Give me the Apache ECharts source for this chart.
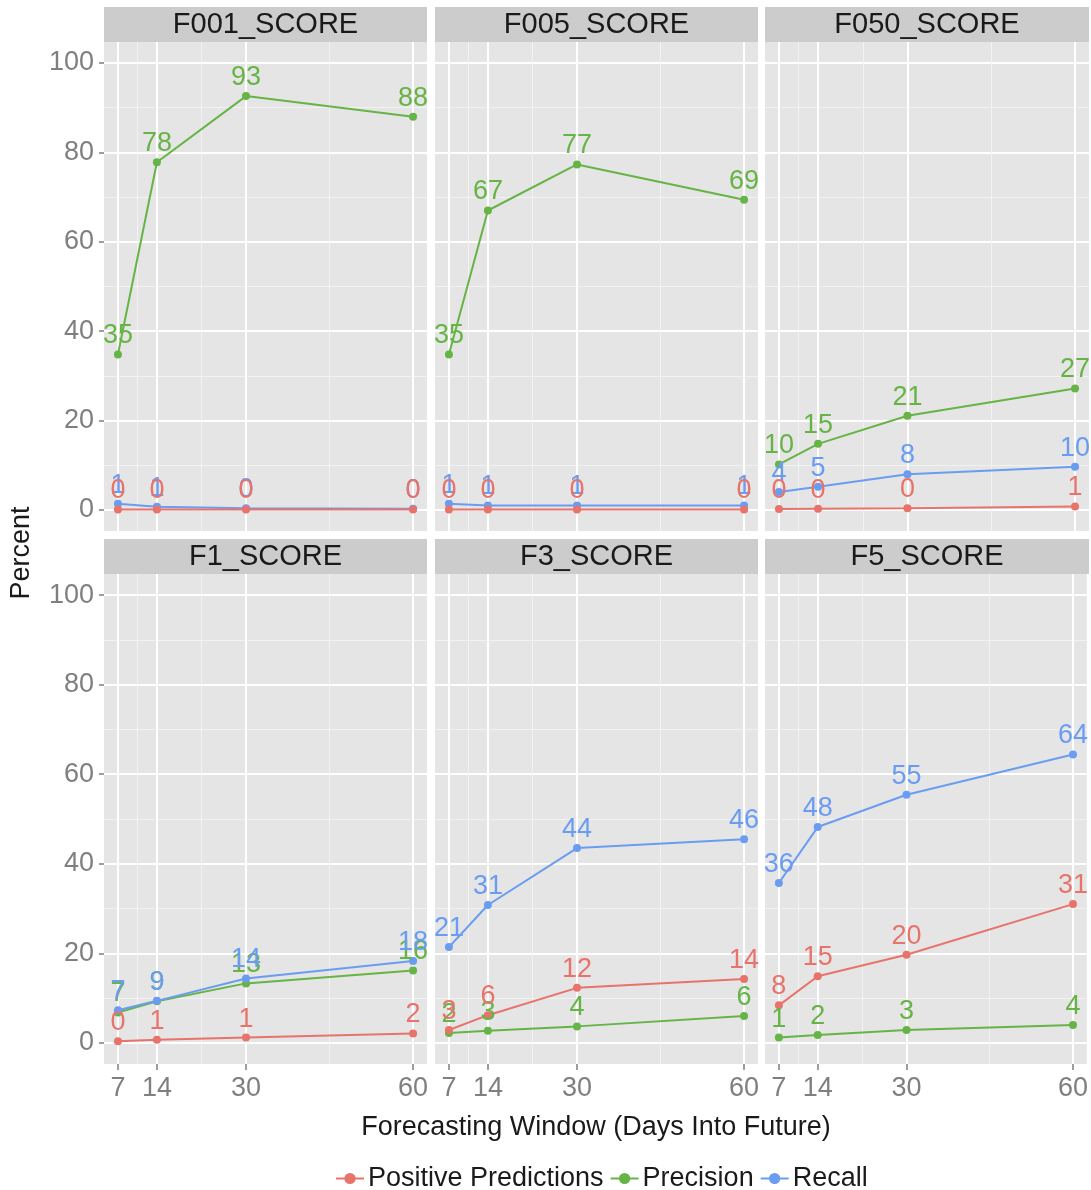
<!DOCTYPE html>
<html>
<head>
<meta charset="utf-8">
<script src="https://cdn.jsdelivr.net/npm/echarts@6/dist/echarts.min.js"></script>
<style>html,body{margin:0;padding:0;background:#fff}#chart{width:1091px;height:1190px}</style>
</head>
<body>
<div id="chart"></div>
<script>
// ---- data ----
const days = [7, 14, 30, 60];
const xTicks = [7, 14, 30, 60];
const yTicks = [0, 20, 40, 60, 80, 100];
const panelNames = ['F001_SCORE', 'F005_SCORE', 'F050_SCORE', 'F1_SCORE', 'F3_SCORE', 'F5_SCORE'];
const metricNames = ['Positive Predictions', 'Precision', 'Recall'];

const f001Positive = [0.1, 0.1, 0.1, 0.1];
const f001Precision = [34.8, 77.8, 92.6, 88.0];
const f001Recall = [1.4, 0.7, 0.4, 0.3];

const f005Positive = [0.1, 0.1, 0.1, 0.1];
const f005Precision = [34.8, 67.0, 77.3, 69.4];
const f005Recall = [1.4, 1.0, 1.0, 1.0];

const f050Positive = [0.2, 0.3, 0.4, 0.8];
const f050Precision = [10.2, 14.8, 21.1, 27.2];
const f050Recall = [4.0, 5.2, 8.0, 9.7];

const f1Positive = [0.4, 0.7, 1.2, 2.1];
const f1Precision = [6.8, 9.3, 13.3, 16.2];
const f1Recall = [7.3, 9.4, 14.4, 18.3];

const f3Positive = [2.9, 6.2, 12.3, 14.3];
const f3Precision = [2.2, 2.7, 3.7, 6.0];
const f3Recall = [21.4, 30.8, 43.5, 45.5];

const f5Positive = [8.4, 14.9, 19.7, 31.0];
const f5Precision = [1.2, 1.8, 2.9, 4.0];
const f5Recall = [35.7, 48.2, 55.4, 64.4];

const positiveByPanel = [f001Positive, f005Positive, f050Positive, f1Positive, f3Positive, f5Positive];
const precisionByPanel = [f001Precision, f005Precision, f050Precision, f1Precision, f3Precision, f5Precision];
const recallByPanel = [f001Recall, f005Recall, f050Recall, f1Recall, f3Recall, f5Recall];

// ---- styling / layout ----
const FONT = '"Liberation Sans", Arial, Helvetica, sans-serif';
const COLORS = { 'Positive Predictions': '#E8736B', 'Precision': '#66B446', 'Recall': '#6A9CF2' };
const colLeft = [104, 435, 765];
const colWidth = [323, 323, 324];
const rowTop = [42, 574];
const rowHeight = [489, 490];
const stripH = 35;
const xMinorTicks = [10.5, 22, 45];
const yMinorTicks = [10, 30, 50, 70, 90];
const FS = 27;

const grids = [], xAxes = [], yAxes = [], series = [], titles = [], graphics = [];

panelNames.forEach((name, i) => {
  const r = Math.floor(i / 3), c = i % 3;
  const left = colLeft[c], top = rowTop[r], w = colWidth[c], h = rowHeight[r];
  grids.push({ left: left, top: top, width: w, height: h, show: true, backgroundColor: '#E5E5E5', borderWidth: 0 });
  // strip
  graphics.push({ type: 'rect', shape: { x: left, y: top - stripH, width: w, height: stripH }, style: { fill: '#CCCCCC' }, silent: true });
  titles.push({ text: name, left: left + w / 2, top: top - stripH + 3, textAlign: 'center',
    textStyle: { fontFamily: FONT, fontSize: 29, fontWeight: 'normal', color: '#1A1A1A' }, padding: 0 });

  const showX = r === 1, showY = c === 0;
  // minor axes (drawn first)
  xAxes.push({ gridIndex: i, type: 'value', position: 'bottom', min: 4.5, max: 62.5, axisLine: { show: false, onZero: false },
    axisTick: { show: false, customValues: xMinorTicks }, axisLabel: { show: false, customValues: xMinorTicks },
    splitLine: { show: true, lineStyle: { color: '#F2F2F2', width: 1 } } });
  yAxes.push({ gridIndex: i, type: 'value', min: -4.7, max: 104.7, position: 'left', axisLine: { show: false, onZero: false },
    axisTick: { show: false, customValues: yMinorTicks }, axisLabel: { show: false, customValues: yMinorTicks },
    splitLine: { show: true, lineStyle: { color: '#F2F2F2', width: 1 } } });
  // major axes
  xAxes.push({ gridIndex: i, type: 'value', position: 'bottom', min: 4.5, max: 62.5, axisLine: { show: false, onZero: false },
    axisTick: { show: showX, customValues: xTicks, length: 6, lineStyle: { color: '#7F7F7F', width: 1.5 } },
    axisLabel: { show: showX, customValues: xTicks, margin: 11, color: '#7F7F7F', fontFamily: FONT, fontSize: FS },
    splitLine: { show: true, lineStyle: { color: '#FFFFFF', width: 2 } } });
  yAxes.push({ gridIndex: i, type: 'value', min: -4.7, max: 104.7, position: 'left', axisLine: { show: false, onZero: false },
    axisTick: { show: showY, customValues: yTicks, length: 5, lineStyle: { color: '#7F7F7F', width: 1.5 } },
    axisLabel: { show: showY, customValues: yTicks, margin: 10, color: '#7F7F7F', fontFamily: FONT, fontSize: FS },
    splitLine: { show: true, lineStyle: { color: '#FFFFFF', width: 2 } } });

  const byMetric = { 'Positive Predictions': positiveByPanel[i], 'Precision': precisionByPanel[i], 'Recall': recallByPanel[i] };
  ['Precision', 'Recall', 'Positive Predictions'].forEach(m => {
    const col = COLORS[m];
    series.push({
      name: m, type: 'line', xAxisIndex: 2 * i + 1, yAxisIndex: 2 * i + 1,
      data: days.map((d, k) => [d, byMetric[m][k]]),
      symbol: 'circle', symbolSize: 8, showSymbol: true,
      lineStyle: { color: col, width: 2 }, itemStyle: { color: col },
      label: { show: true, position: 'top', distance: 1, color: col, fontFamily: FONT, fontSize: FS,
        formatter: p => String(Math.round(p.value[1])) },
      emphasis: { disabled: true }, animation: false
    });
  });
});

graphics.push({ type: 'text', x: 22, y: 553, rotation: Math.PI / 2,
  style: { text: 'Percent', fontFamily: FONT, fontSize: FS, fill: '#1A1A1A', textAlign: 'center', textVerticalAlign: 'middle' } });
graphics.push({ type: 'text', x: 596, y: 1128,
  style: { text: 'Forecasting Window (Days Into Future)', fontFamily: FONT, fontSize: FS, fill: '#1A1A1A', textAlign: 'center', textVerticalAlign: 'middle' } });

const chart = echarts.init(document.getElementById('chart'), null, { renderer: 'canvas' });
chart.setOption({
  animation: false,
  backgroundColor: '#FFFFFF',
  title: titles,
  grid: grids,
  xAxis: xAxes,
  yAxis: yAxes,
  series: series,
  graphic: graphics,
  legend: {
    data: metricNames, left: 330, top: 1160, itemWidth: 28, itemHeight: 14, itemGap: 6,
    textStyle: { fontFamily: FONT, fontSize: FS, color: '#1A1A1A', padding: [0, 0, 0, -1] }
  }
});
</script>
</body>
</html>
